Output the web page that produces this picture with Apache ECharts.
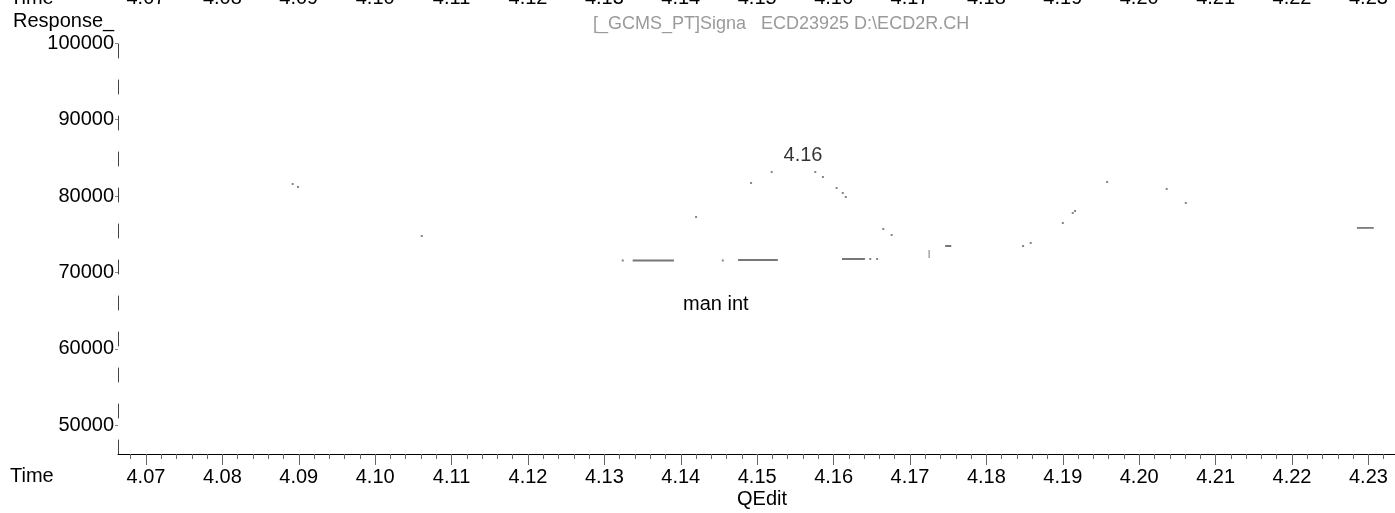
<!DOCTYPE html>
<html>
<head>
<meta charset="utf-8">
<script src="https://cdn.jsdelivr.net/npm/echarts@6/dist/echarts.min.js"></script>
<style>
html,body{margin:0;padding:0;background:#fff;}
#c{width:1395px;height:513px;}
</style>
</head>
<body>
<div id="c"></div>
<script>
// ---- data ----
const xTickLabels = ['4.07','4.08','4.09','4.10','4.11','4.12','4.13','4.14','4.15','4.16','4.17','4.18','4.19','4.20','4.21','4.22','4.23'];
const yTickLabels = ['50000','60000','70000','80000','90000','100000'];

// visible dots of the trace (time, response)
const dotTime = [4.0892, 4.0899, 4.1061, 4.1324, 4.1420, 4.1455, 4.1492, 4.1519, 4.1576, 4.1586, 4.1604, 4.1612, 4.1616, 4.1648, 4.1657, 4.1665, 4.1676, 4.1848, 4.1858, 4.1900, 4.1913, 4.1916, 4.1958, 4.2036, 4.2061];
const dotResp = [81570, 81180, 74770, 71570, 77260, 71570, 81700, 83140, 83140, 82480, 81050, 80390, 79870, 71760, 71760, 75690, 74900, 73460, 73860, 76470, 77780, 78040, 81830, 80920, 79090];

// visible short baseline pieces of the trace
const segStart = [4.1337, 4.1475, 4.1611, 4.1746, 4.2285];
const segEnd   = [4.1391, 4.1527, 4.1641, 4.1754, 4.2307];
const segResp  = [71570, 71630, 71760, 73460, 75820];

// small vertical tick mark on the trace
const barTime = 4.1725;
const barLow = 71890, barHigh = 72940;

// peak annotation
const peakTime = 4.156, peakResp = 85360, peakText = '4.16';

const FONT = "'Liberation Sans', Arial, sans-serif";
const xMin = 4.06634, xMax = 4.23348;
const yMin = 46270, yMax = 101307;

const xMajor = xTickLabels.map(Number);
const xMinor = [];
for (let i = 0; i < xMajor.length; i++) {
  for (let k = -4; k <= 4; k += 2) {
    if (k === 0) continue;
    const v = +(xMajor[i] + k * 0.001).toFixed(3);
    if (v > xMin && v < xMax && xMinor.indexOf(v) < 0) xMinor.push(v);
  }
}
const yTicks = yTickLabels.map(Number);

const series = [];
series.push({
  type: 'scatter', xAxisIndex: 0, yAxisIndex: 0,
  symbol: 'rect', symbolSize: [2, 2],
  itemStyle: { color: '#666' },
  data: dotTime.map((t, i) => [t, dotResp[i]]),
  silent: true, z: 3
});
segStart.forEach((s, i) => {
  series.push({
    type: 'line', xAxisIndex: 0, yAxisIndex: 0, symbol: 'none',
    lineStyle: { color: i === segStart.length - 1 ? '#111' : '#777', width: i === segStart.length - 1 ? 1 : 2 },
    data: [[s, segResp[i]], [segEnd[i], segResp[i]]],
    silent: true, animation: false
  });
});
series.push({
  type: 'line', xAxisIndex: 0, yAxisIndex: 0, symbol: 'none',
  lineStyle: { color: '#777', width: 1 },
  data: [[barTime, barLow], [barTime, barHigh]],
  silent: true, animation: false
});
series.push({
  type: 'scatter', xAxisIndex: 0, yAxisIndex: 0, symbolSize: 0,
  data: [[peakTime, peakResp]],
  label: { show: true, position: 'inside', formatter: peakText, color: '#000', textBorderWidth: 0, fontFamily: FONT, fontSize: 20 },
  silent: true
});
// hidden series for the top (clipped) panel axis
series.push({ type: 'line', xAxisIndex: 2, yAxisIndex: 1, data: [], silent: true });

const chart = echarts.init(document.getElementById('c'), null, { renderer: 'canvas' });
chart.setOption({
  animation: false,
  backgroundColor: '#fff',
  grid: [
    { left: 118, right: 0, top: 33, bottom: 59, outerBoundsMode: 'none', containLabel: false },
    { left: 118, right: 0, top: -100, height: 80, outerBoundsMode: 'none', containLabel: false }
  ],
  xAxis: [
    {
      type: 'value', gridIndex: 0, position: 'bottom', min: xMin, max: xMax,
      axisLine: { show: true, onZero: false, lineStyle: { color: '#000', width: 1 } },
      axisTick: { show: true, customValues: xMajor, length: 11, lineStyle: { color: '#666' } },
      axisLabel: { customValues: xMajor, formatter: v => v.toFixed(2), color: '#000', fontFamily: FONT, fontSize: 20, margin: 13 },
      splitLine: { show: false }
    },
    {
      type: 'value', gridIndex: 0, position: 'bottom', min: xMin, max: xMax,
      axisLine: { show: false, onZero: false },
      axisTick: { show: true, customValues: xMinor, length: 5, lineStyle: { color: '#666' } },
      axisLabel: { show: false },
      splitLine: { show: false }
    },
    {
      type: 'value', gridIndex: 1, position: 'bottom', min: xMin, max: xMax,
      axisLine: { show: false, onZero: false },
      axisTick: { show: false },
      axisLabel: { customValues: xMajor, formatter: v => v.toFixed(2), color: '#000', fontFamily: FONT, fontSize: 20, margin: 8 },
      splitLine: { show: false }
    }
  ],
  yAxis: [
    {
      type: 'value', gridIndex: 0, min: yMin, max: yMax,
      axisLine: { show: true, onZero: false, lineStyle: { color: '#444', width: 1, type: [14, 22] } },
      axisTick: { show: true, customValues: yTicks, length: 3, lineStyle: { color: '#888' } },
      axisLabel: { customValues: yTicks, formatter: v => String(v), color: '#000', fontFamily: FONT, fontSize: 20, margin: 4 },
      splitLine: { show: false }
    },
    { type: 'value', gridIndex: 1, show: false, min: 0, max: 1 }
  ],
  graphic: [
    { type: 'text', left: 10, top: -12, style: { text: 'Time', fill: '#000', font: '20px ' + FONT } },
    { type: 'text', left: 13, top: 11, style: { text: 'Response_', fill: '#000', font: '20px ' + FONT } },
    { type: 'text', left: 593, top: 15, style: { text: '[_GCMS_PT]Signa   ECD23925 D:\\ECD2R.CH', fill: '#9a9a9a', font: '18px ' + FONT } },
    { type: 'text', left: 10, top: 466, style: { text: 'Time', fill: '#000', font: '20px ' + FONT } },
    { type: 'text', left: 737, top: 489, style: { text: 'QEdit', fill: '#000', font: '20px ' + FONT } },
    { type: 'text', left: 683, top: 294, style: { text: 'man int', fill: '#000', font: '20px ' + FONT } }
  ],
  series: series
});
</script>
</body>
</html>
